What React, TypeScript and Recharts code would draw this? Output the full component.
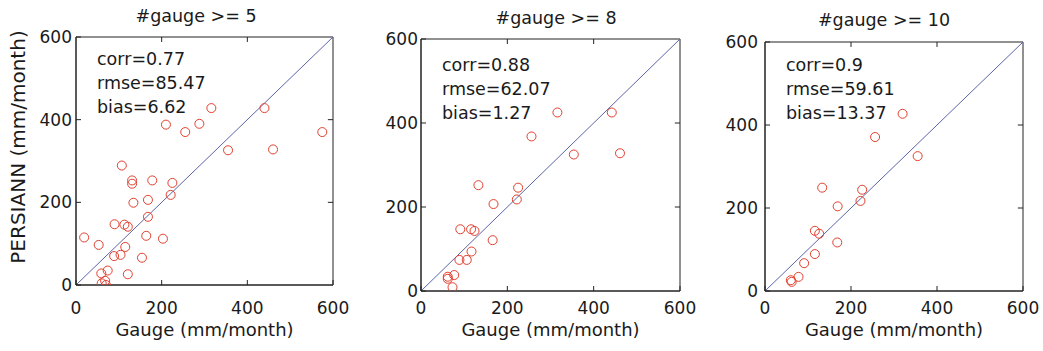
import { ScatterChart, Scatter, XAxis, YAxis, ReferenceLine, ReferenceArea } from "recharts";

const TICKS = [0, 200, 400, 600];
const TITLES = ["#gauge >= 5", "#gauge >= 8", "#gauge >= 10"];
const CORR = ["0.77", "0.88", "0.9"];
const RMSE = ["85.47", "62.07", "59.61"];
const BIAS = ["6.62", "1.27", "13.37"];

// gauge >= 5
const gauge5 = [19, 53, 107, 131, 131, 134, 178, 168, 168, 225, 221, 210, 255, 288, 316, 440, 355, 460, 575, 90, 113, 121, 115, 89, 104, 164, 203, 154, 121, 59, 74, 60, 68, 70];
const persiann5 = [115, 97, 289, 253, 245, 199, 253, 206, 165, 247, 218, 388, 370, 390, 428, 428, 326, 328, 370, 147, 146, 141, 92, 70, 73, 119, 112, 66, 26, 28, 35, 4, 10, 0];

// gauge >= 8
const gauge8 = [316, 442, 256, 354, 461, 133, 225, 222, 168, 91, 116, 124, 166, 117, 89, 106, 77, 62, 62, 73];
const persiann8 = [425, 425, 368, 325, 328, 252, 246, 218, 207, 147, 147, 143, 121, 94, 74, 74, 38, 34, 29, 9];

// gauge >= 10
const gauge10 = [320, 256, 355, 133, 226, 222, 169, 116, 126, 168, 116, 91, 78, 60, 62];
const persiann10 = [427, 371, 325, 249, 244, 217, 204, 145, 138, 117, 89, 67, 34, 26, 22];

const SERIES = [
  [gauge5, persiann5],
  [gauge8, persiann8],
  [gauge10, persiann10],
];

const FONT = "'DejaVu Sans', Verdana, sans-serif";
const H = 351;
const MAX = 600;

// where each panel sits on the page
const PANELS = [
  { left: 0, width: 370, plotLeft: 76, plotRight: 333, plotTop: 37, plotBottom: 285, yGap: 9, titleX: 196, titleTop: 8, textTop: 51 },
  { left: 345, width: 370, plotLeft: 421, plotRight: 680, plotTop: 39, plotBottom: 291, yGap: 8, titleX: 556, titleTop: 10, textTop: 57 },
  { left: 690, width: 353, plotLeft: 765, plotRight: 1023, plotTop: 42, plotBottom: 291, yGap: 12, titleX: 884, titleTop: 12, textTop: 57 },
];

const Circle = (p: any) => (
  <circle cx={p.cx} cy={p.cy} r={4.5} fill="none" stroke="#e2402f" strokeWidth={1} />
);

function Panel({ idx }: { idx: number }) {
  const p = PANELS[idx];
  const [xs, ys] = SERIES[idx];
  const data = xs.map((x, i) => ({ x, y: ys[i] }));
  const xAxisH = 30;
  const tickStyle = { fontSize: 17, fill: "#1a1a1a", fontFamily: FONT };
  const inner = TICKS.slice(1, -1);
  return (
    <div style={{ position: "absolute", left: p.left, top: 0 }}>
      <ScatterChart
        width={p.width}
        height={H}
        margin={{ top: p.plotTop, right: p.left + p.width - p.plotRight, bottom: H - p.plotBottom - xAxisH, left: 0 }}
      >
        <XAxis type="number" dataKey="x" domain={[0, MAX]} ticks={TICKS} height={xAxisH}
          tick={tickStyle} tickSize={-5} tickMargin={307 - p.plotBottom} stroke="#222" allowDataOverflow />
        <YAxis type="number" dataKey="y" domain={[0, MAX]} ticks={TICKS} width={p.plotLeft - p.left}
          tick={tickStyle} tickSize={-5} tickMargin={p.yGap} stroke="#222" allowDataOverflow />
        <ReferenceArea x1={0} x2={MAX} y1={0} y2={MAX} fill="none" stroke="#222" strokeWidth={1} />
        {/* inward ticks on the top and right edges of the box */}
        {inner.map((t) => (
          <ReferenceLine key={"tt" + t} segment={[{ x: t, y: MAX }, { x: t, y: MAX - 12 }]} stroke="#222" />
        ))}
        {inner.map((t) => (
          <ReferenceLine key={"rt" + t} segment={[{ x: MAX, y: t }, { x: MAX - 12, y: t }]} stroke="#222" />
        ))}
        <ReferenceLine segment={[{ x: 0, y: 0 }, { x: MAX, y: MAX }]} stroke="#5b64a6" strokeWidth={1} />
        <Scatter data={data} shape={Circle} isAnimationActive={false} />
      </ScatterChart>
    </div>
  );
}

export default function App() {
  const txt = { position: "absolute" as const, fontFamily: FONT, fontSize: 17.5, lineHeight: "17.5px", color: "#1a1a1a", whiteSpace: "nowrap" as const };
  return (
    <div style={{ position: "absolute", left: 0, top: 0, width: 1043, height: H, background: "#fff", overflow: "hidden" }}>
      {PANELS.map((_, i) => <Panel key={i} idx={i} />)}

      {PANELS.map((p, i) => {
        const cx = (p.plotLeft + p.plotRight) / 2;
        const tx = p.plotLeft + 21;
        return (
          <div key={"t" + i}>
            <div style={{ ...txt, fontSize: 17.5, lineHeight: "17.5px", left: p.titleX - 100, width: 200, top: p.titleTop, textAlign: "center" }}>{TITLES[i]}</div>
            <div style={{ ...txt, left: tx, top: p.textTop }}>corr={CORR[i]}</div>
            <div style={{ ...txt, left: tx, top: p.textTop + 24 }}>rmse={RMSE[i]}</div>
            <div style={{ ...txt, left: tx, top: p.textTop + 48 }}>bias={BIAS[i]}</div>
            <div style={{ ...txt, fontSize: 18, lineHeight: "18px", left: cx - 120, width: 240, top: 321, textAlign: "center" }}>Gauge (mm/month)</div>
          </div>
        );
      })}

      <div style={{ ...txt, left: 18 - 130, top: 147 - 10, width: 260, height: 20, fontSize: 20, lineHeight: "20px", textAlign: "center", transform: "rotate(-90deg)" }}>
        PERSIANN (mm/month)
      </div>
    </div>
  );
}
